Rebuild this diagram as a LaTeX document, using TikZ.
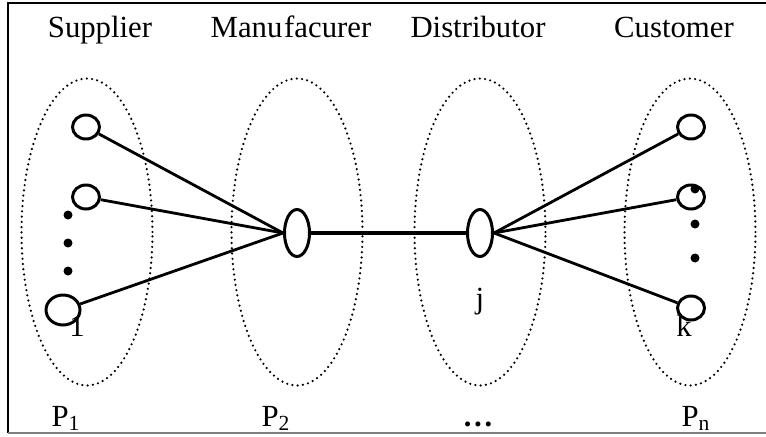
\documentclass[tikz,border=0pt]{standalone}
\usepackage{fontspec}
\setmainfont{Liberation Serif}
\usetikzlibrary{shapes.geometric}

\begin{document}
\begin{tikzpicture}[x=0.02cm, y=-0.02cm,
  lbl/.style={font=\fontsize{17.5}{20}\selectfont, anchor=base, inner sep=0pt},
  group/.style={ellipse, draw, line width=1.4pt, dash pattern=on 0pt off 3pt, line cap=round,
    minimum width=2.62cm, minimum height=6.14cm, inner sep=0pt},
  unit/.style={ellipse, draw, line width=1.7pt, minimum width=0.54cm, minimum height=0.48cm, inner sep=0pt},
  hub/.style={unit, minimum width=0.5cm, minimum height=0.94cm},
  link/.style={line width=1.6pt},
  dot/.style={circle, fill, inner sep=0pt, minimum size=0.18cm}]
  \useasboundingbox (0,0) rectangle (766,436);
  \draw[line width=1.2pt] (766,3) -- (8,3) -- (8,433);
  \draw[gray, line width=1.2pt] (8,433) -- (766,433);
  % stages
  \node[lbl] (tsup) at (100,37) {Supplier};
  \node[lbl] (tman) at (291,37) {Manu\kern1pt facurer};
  \node[lbl] (tdis) at (478,37) {Distributor};
  \node[lbl] (tcus) at (674,37) {Customer};
  \foreach \x/\n in {87/gsup, 297/gman, 480/gdis, 690/gcus} {\node[group] (\n) at (\x,232) {};}
  % supplier side
  \node[unit] (s1) at (86,127) {};
  \node[unit] (s2) at (86,197) {};
  \node[unit, minimum width=0.68cm, minimum height=0.6cm] (s3) at (63,310) {};
  \foreach \y/\n in {215/sd1, 243/sd2, 271/sd3} {\node[dot] (\n) at (68,\y) {};}
  \node[lbl] (lone) at (77,336) {1};
  % hubs
  \node[hub] (m) at (297,233) {};
  \node[hub] (d) at (480,233) {};
  \node[lbl] (lj) at (480,308) {j};
  % customer side
  \node[unit] (c1) at (691,127) {};
  \node[unit] (c2) at (691,197) {};
  \node[unit] (c3) at (691,308) {};
  \foreach \y/\n in {189/cd1, 224/cd2, 258/cd3} {\node[dot] (\n) at (695,\y) {};}
  \node[lbl] (lk) at (684,336) {k};
  % links
  \foreach \n in {s1,s2,s3} {\draw[link] (\n) -- (m.west);}
  \draw[line width=2.6pt] (m) -- (d);
  \foreach \n in {c1,c2,c3} {\draw[link] (d.east) -- (\n);}
  % stage indices
  \node[lbl] (p1) at (66,426) {P\textsubscript{1}};
  \node[lbl] (p2) at (276,426) {P\textsubscript{2}};
  \node[lbl] (pdots) at (478,426) {\textbf{\dots}};
  \node[lbl] (pn) at (696,426) {P\textsubscript{n}};
\end{tikzpicture}
\end{document}
